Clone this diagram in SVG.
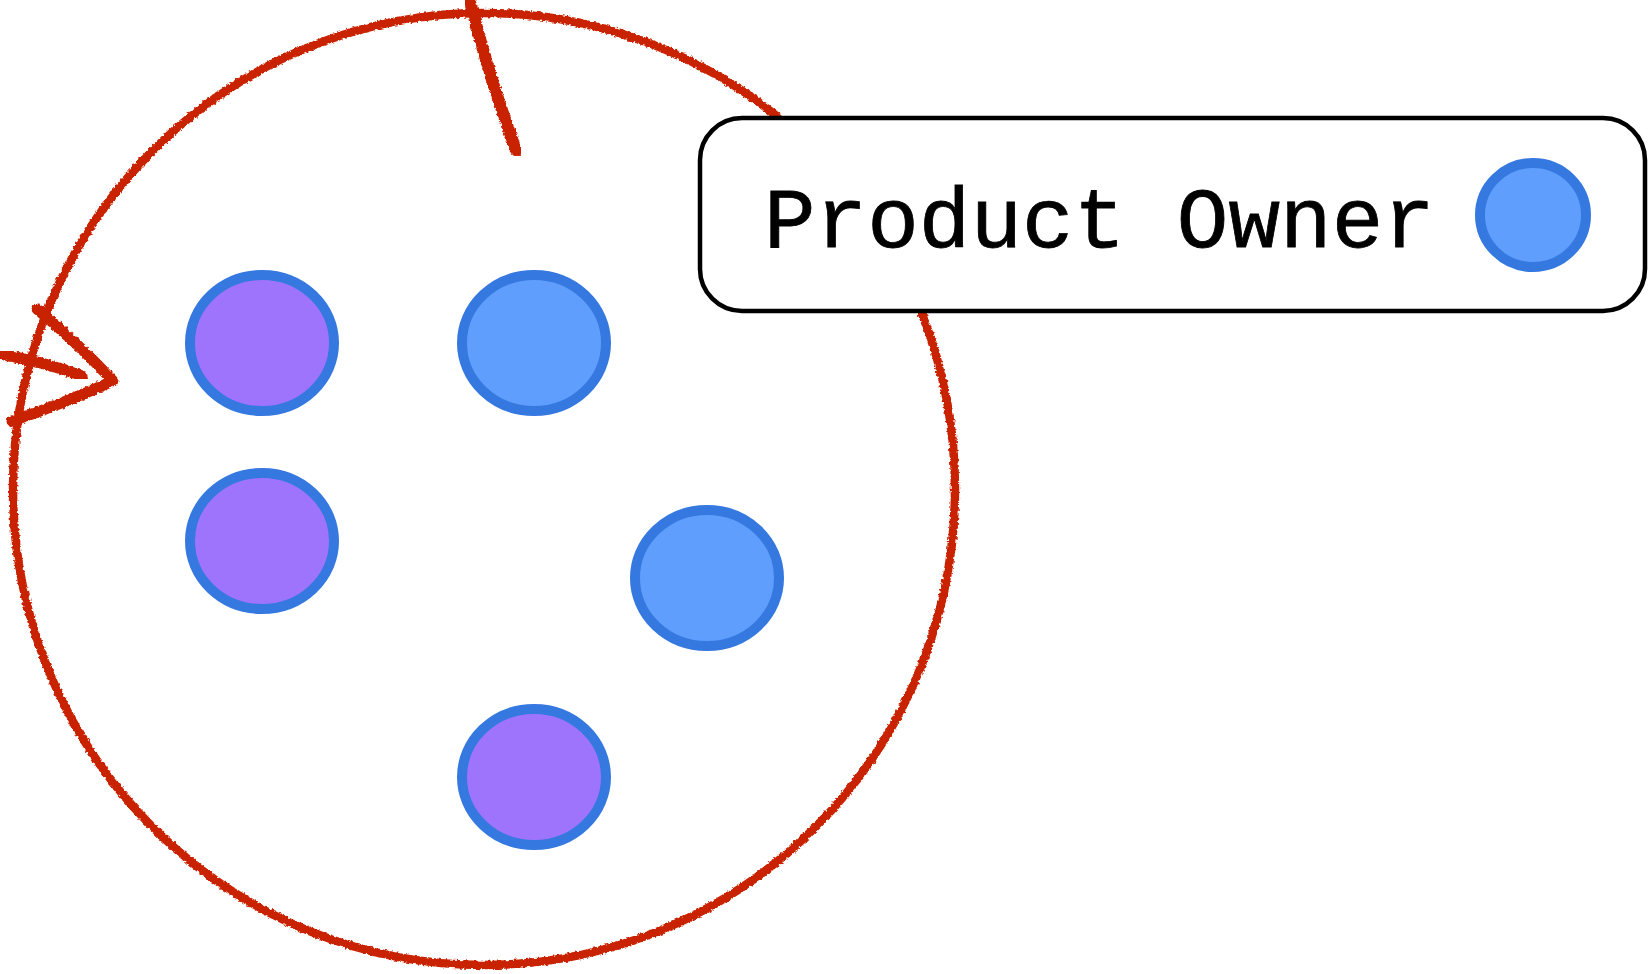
<svg xmlns="http://www.w3.org/2000/svg" width="1649" height="974" viewBox="0 0 1649 974">
<style>
.red{fill:none;stroke:#c82300;stroke-width:8.5;stroke-linecap:round;stroke-linejoin:round;filter:url(#rough)}
.thick{stroke-width:12}
.mid{stroke-width:11}
.purple{fill:#9f74fd;stroke:#3578df;stroke-width:10}
.blue{fill:#5f9efd;stroke:#3578df;stroke-width:10}
.box{fill:#fff;stroke:#000;stroke-width:4.5}
.label{font-family:"Liberation Mono","Courier New",monospace;font-size:86px;fill:#000;stroke:#000;stroke-width:0.8}
</style>
<defs>
<filter id="rough" x="-10%" y="-10%" width="120%" height="120%">
<feTurbulence type="fractalNoise" baseFrequency="0.35" numOctaves="2" seed="3" result="n"/>
<feDisplacementMap in="SourceGraphic" in2="n" scale="4" xChannelSelector="R" yChannelSelector="G"/>
</filter>
</defs>
<rect width="1649" height="974" fill="#fff"/>
<g id="cycle">
<ellipse class="red" cx="484" cy="489" rx="471" ry="476"/>
</g>
<g id="connectors">
<path class="red thick" d="M470 2 Q480 40 492 80 Q505 120 516 150"/>
<path class="red mid" d="M0 354 Q45 362 82 376"/>
<path class="red mid" d="M37 309 Q80 345 113 381 Q60 405 12 421"/>
</g>
<g id="node-purple-1"><ellipse class="purple" cx="262" cy="343" rx="72" ry="68"/></g>
<g id="node-blue-1"><ellipse class="blue" cx="534" cy="343" rx="72" ry="68"/></g>
<g id="node-purple-2"><ellipse class="purple" cx="262" cy="541" rx="72" ry="68"/></g>
<g id="node-blue-2"><ellipse class="blue" cx="707" cy="578" rx="72" ry="68"/></g>
<g id="node-purple-3"><ellipse class="purple" cx="534" cy="777" rx="72" ry="68"/></g>
<g id="legend">
<rect class="box" x="700" y="118" width="945" height="193" rx="42" ry="42"/>
<text class="label" x="764" y="247">Product Owner</text>
<ellipse class="blue" cx="1533" cy="215" rx="53" ry="52"/>
</g>
</svg>
